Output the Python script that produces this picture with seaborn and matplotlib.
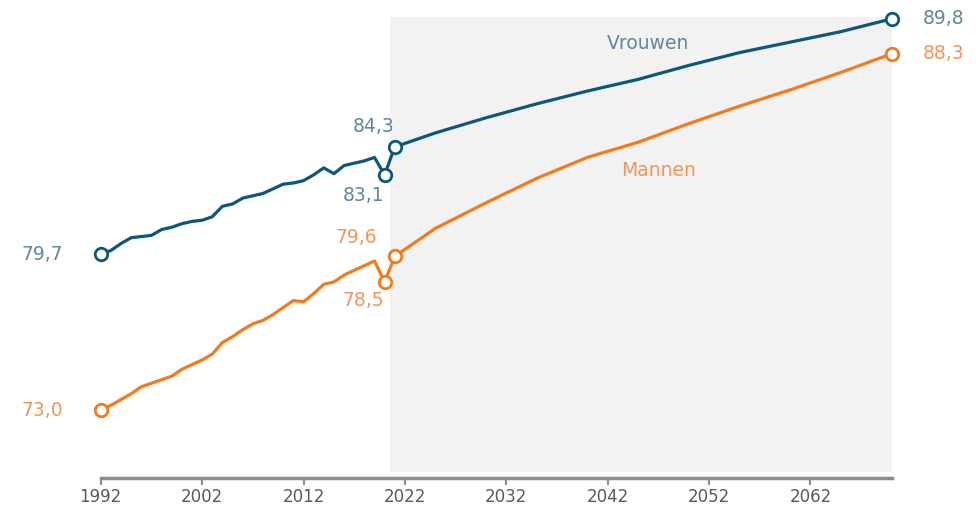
import pandas as pd
import matplotlib.pyplot as plt
import seaborn as sns

# Levensverwachting bij geboorte: waarnemingen 1992-2020, vooruitzichten 2021-2070
jaren_hist = list(range(1992, 2021))
vrouwen_hist = [79.7, 79.85, 80.15, 80.4, 80.45, 80.5, 80.75, 80.85, 81.0, 81.1,
                81.15, 81.3, 81.75, 81.85, 82.1, 82.2, 82.3, 82.5, 82.7, 82.75,
                82.85, 83.1, 83.4, 83.15, 83.5, 83.6, 83.7, 83.85, 83.1]
mannen_hist = [73.0, 73.2, 73.45, 73.7, 74.0, 74.15, 74.3, 74.45, 74.75, 74.95,
               75.15, 75.4, 75.9, 76.15, 76.45, 76.7, 76.85, 77.1, 77.4, 77.7,
               77.65, 78.0, 78.4, 78.5, 78.8, 79.0, 79.2, 79.4, 78.5]

jaren_proj = [2021, 2025, 2030, 2035, 2040, 2045, 2050, 2055, 2060, 2065, 2070]
vrouwen_proj = [84.3, 84.9, 85.55, 86.15, 86.7, 87.2, 87.8, 88.35, 88.8, 89.25, 89.8]
mannen_proj = [79.6, 80.8, 81.9, 82.95, 83.85, 84.5, 85.3, 86.05, 86.75, 87.5, 88.3]

tick_jaren = [1992, 2002, 2012, 2022, 2032, 2042, 2052, 2062]

blauw = '#0d5878'
oranje = '#f57a1c'
blauw_tekst = '#60879c'
oranje_tekst = '#f2955a'

jaren = jaren_hist + jaren_proj
df = pd.DataFrame({
    'jaar': jaren * 2,
    'levensverwachting': vrouwen_hist + vrouwen_proj + mannen_hist + mannen_proj,
    'geslacht': ['Vrouwen'] * len(jaren) + ['Mannen'] * len(jaren),
})

sns.set_style('white')
plt.rcParams['font.family'] = ['DejaVu Sans']

fig = plt.figure(figsize=(9.76, 5.07), dpi=100)
ax = fig.add_axes([0.1032, 0.0572, 0.8103, 0.9093])

# prognosegebied
ax.axvspan(2020.5, 2070, ymin=0.013, ymax=1, color='#f2f2f2', zorder=0, lw=0)

sns.lineplot(data=df, x='jaar', y='levensverwachting', hue='geslacht',
             palette={'Vrouwen': blauw, 'Mannen': oranje}, linewidth=2.3,
             legend=False, ax=ax, zorder=2)

# open cirkels op de sleuteljaren
def cirkels(xs, ys, kleur):
    ax.plot(xs, ys, linestyle='none', marker='o', ms=9, mew=2,
            mfc='white', mec=kleur, zorder=3, clip_on=False)

cirkels([1992, 2020, 2021, 2070],
        [vrouwen_hist[0], vrouwen_hist[-1], vrouwen_proj[0], vrouwen_proj[-1]], blauw)
cirkels([1992, 2020, 2021, 2070],
        [mannen_hist[0], mannen_hist[-1], mannen_proj[0], mannen_proj[-1]], oranje)

def label(x, y, tekst, kleur, dx, dy, ha='center'):
    ax.annotate(tekst, (x, y), xytext=(dx, dy), textcoords='offset pixels',
                ha=ha, va='center', fontsize=13.5, color=kleur, annotation_clip=False)

fmt = lambda v: f'{v:.1f}'.replace('.', ',')
label(1992, vrouwen_hist[0], fmt(vrouwen_hist[0]), blauw_tekst, -38, 0, 'right')
label(1992, mannen_hist[0], fmt(mannen_hist[0]), oranje_tekst, -38, 0, 'right')
label(2021, vrouwen_proj[0], fmt(vrouwen_proj[0]), blauw_tekst, -21, 20)
label(2020, vrouwen_hist[-1], fmt(vrouwen_hist[-1]), blauw_tekst, -21, -21)
label(2021, mannen_proj[0], fmt(mannen_proj[0]), oranje_tekst, -38, 19)
label(2020, mannen_hist[-1], fmt(mannen_hist[-1]), oranje_tekst, -21, -19)
label(2070, vrouwen_proj[-1], fmt(vrouwen_proj[-1]), blauw_tekst, 31, 0, 'left')
label(2070, mannen_proj[-1], fmt(mannen_proj[-1]), oranje_tekst, 31, 0, 'left')

ax.text(2046.0, 88.76, 'Vrouwen', ha='center', va='center', fontsize=13.5, color=blauw_tekst)
ax.text(2047.0, 83.27, 'Mannen', ha='center', va='center', fontsize=13.5, color=oranje_tekst)

ax.set_xlim(1992, 2070)
ax.set_ylim(70.08, 89.88)
ax.set_xticks(tick_jaren)
ax.set_xticklabels([str(j) for j in tick_jaren])
ax.set_yticks([])
ax.set_xlabel('')
ax.set_ylabel('')
for kant in ['top', 'right', 'left']:
    ax.spines[kant].set_visible(False)
ax.spines['bottom'].set_color('#8c8c8c')
ax.spines['bottom'].set_linewidth(2.5)
ax.tick_params(axis='x', direction='out', length=5, width=1.5, color='#8c8c8c',
               labelsize=12, labelcolor='#5a5a5a', pad=2, bottom=True)
ax.patch.set_alpha(0)

fig.savefig('out.png', dpi=100)
